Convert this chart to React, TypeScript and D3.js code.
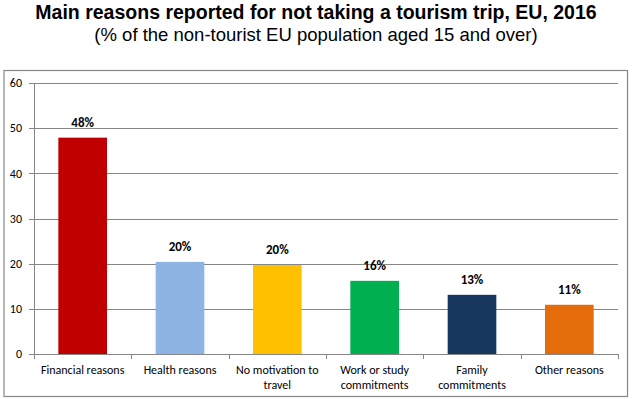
import React from 'react';
import * as d3 from 'd3';

const categories = [
  ['Financial reasons'],
  ['Health reasons'],
  ['No motivation to', 'travel'],
  ['Work or study', 'commitments'],
  ['Family', 'commitments'],
  ['Other reasons'],
];
const values = [47.9, 20.4, 19.7, 16.2, 13.1, 10.9];
const valueLabels = ['48%', '20%', '20%', '16%', '13%', '11%'];
const colors = ['#C00000', '#8DB4E2', '#FFC000', '#00B050', '#17375E', '#E46C0A'];
const yTicks = [0, 10, 20, 30, 40, 50, 60];

const width = 632,
  height = 399,
  margin = { left: 34, top: 83, bottom: 45, right: 14 };

const font = 'Carlito, Lato, "Open Sans", sans-serif';
const arial = '"Liberation Sans", Arial, sans-serif';

export default function App() {
  const x = d3.scaleBand<number>()
    .domain(d3.range(categories.length))
    .range([margin.left, width - margin.right])
    .paddingInner(0.5)
    .paddingOuter(0.25);
  const step = x.step();
  const y = d3.scaleLinear()
    .domain([0, 60])
    .range([height - margin.bottom, margin.top]);

  return (
    <svg width={width} height={height} style={{ position: 'absolute', left: 0, top: 0 }}>
      <rect x={0} y={0} width={width} height={height} fill="#fff" />
      <text x={316} y={19} textAnchor="middle" fontFamily={arial}
        fontWeight="bold" fontSize={19.5} fill="#000">
        Main reasons reported for not taking a tourism trip, EU, 2016
      </text>
      <text x={316} y={41} textAnchor="middle" fontFamily={arial}
        fontSize={18.5} fill="#000">
        (% of the non-tourist EU population aged 15 and over)
      </text>
      <rect x={4} y={70.5} width={623.5} height={326} fill="none" stroke="#878787" strokeWidth={1.2} />

      {/* grid + y axis */}
      <g>
        {yTicks.map(t => (
          <g key={t}>
            {t > 0 && (
              <line x1={margin.left} x2={width - margin.right} y1={Math.round(y(t)) + 0.5} y2={Math.round(y(t)) + 0.5}
                stroke="#868686" strokeWidth={1} />
            )}
            <line x1={margin.left - 5} x2={margin.left} y1={Math.round(y(t)) + 0.5} y2={Math.round(y(t)) + 0.5}
              stroke="#868686" />
            <text x={margin.left - 12} y={y(t)} dy="0.35em" textAnchor="end" fontFamily={font}
              fontSize={12} fill="#000">{t}</text>
          </g>
        ))}
        <line x1={margin.left + 0.5} x2={margin.left + 0.5} y1={y(60)} y2={y(0)} stroke="#868686" />
      </g>

      {/* bars */}
      <g>
        {values.map((v, i) => (
          <rect key={i} x={x(i)} y={y(v)} width={x.bandwidth()} height={y(0) - y(v)} fill={colors[i]} />
        ))}
      </g>

      {/* value labels */}
      <g fontFamily={font} fontWeight="bold" fontSize={13} fill="#000" textAnchor="middle">
        {values.map((v, i) => (
          <text key={i} x={(x(i) as number) + x.bandwidth() / 2} y={y(v) - 11}>{valueLabels[i]}</text>
        ))}
      </g>

      {/* x axis */}
      <g>
        <line x1={margin.left} x2={width - margin.right} y1={Math.round(y(0)) + 0.5} y2={Math.round(y(0)) + 0.5}
          stroke="#868686" />
        {d3.range(categories.length + 1).map(i => {
          const xx = Math.round(margin.left + step * i) + 0.5;
          return <line key={i} x1={xx} x2={xx} y1={y(0)} y2={y(0) + 5} stroke="#868686" />;
        })}
        {categories.map((lines, i) => (
          <text key={i} x={(x(i) as number) + x.bandwidth() / 2} y={y(0) + 20} textAnchor="middle"
            fontFamily={font} fontSize={12} fill="#000">
            {lines.map((l, j) => (
              <tspan key={j} x={(x(i) as number) + x.bandwidth() / 2} dy={j === 0 ? 0 : 14.5}>{l}</tspan>
            ))}
          </text>
        ))}
      </g>
    </svg>
  );
}
